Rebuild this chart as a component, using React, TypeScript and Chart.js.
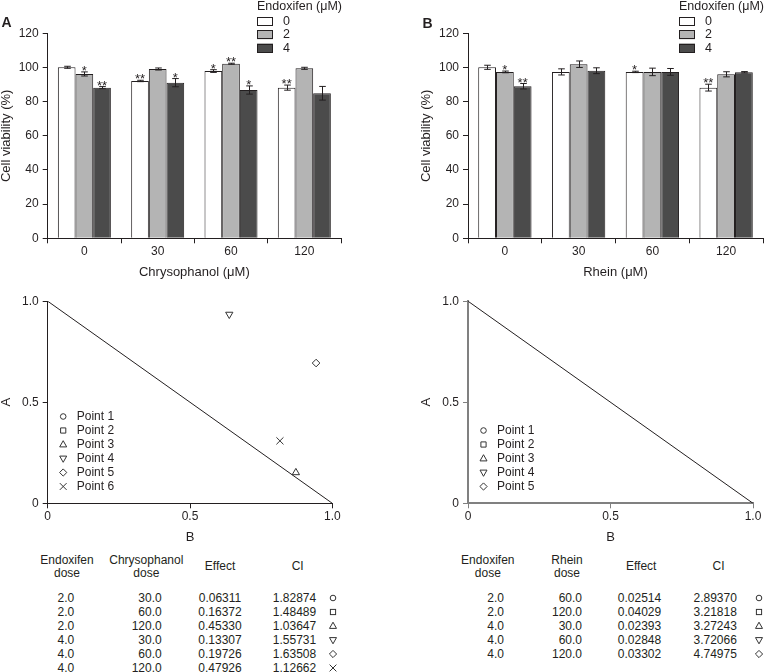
import React, { useEffect, useRef } from 'react';
import { Chart, registerables } from 'chart.js';

Chart.register(...registerables);

const FONT = '"Liberation Sans", Arial, Helvetica, sans-serif';
const INK = '#231f20';
Chart.defaults.font.family = FONT;
Chart.defaults.color = INK;

// ---------- bar chart data ----------
const concentrations = ['0', '30', '60', '120'];
const endoxifenDoses = ['0', '2', '4'];
const barColors = ['#ffffff', '#b4b4b4', '#4b4b4b'];

const chrysoEndo0 = [100.1, 92.1, 97.9, 88.2];
const chrysoEndo2 = [96.2, 99.1, 102.2, 99.5];
const chrysoEndo4 = [88.2, 91.1, 86.8, 84.9];
const chrysoErr0 = [0.6, 0.4, 0.8, 1.5];
const chrysoErr2 = [1.2, 0.6, 0.3, 0.6];
const chrysoErr4 = [0.6, 2.4, 2.4, 4.0];
const chrysoStars0 = ['', '**', '*', '**'];
const chrysoStars2 = ['*', '', '**', ''];
const chrysoStars4 = ['**', '*', '*', ''];

const rheinEndo0 = [100.1, 97.4, 97.4, 88.2];
const rheinEndo2 = [97.4, 101.9, 97.4, 96.0];
const rheinEndo4 = [89.0, 98.1, 97.4, 97.2];
const rheinErr0 = [1.2, 1.8, 0.4, 2.0];
const rheinErr2 = [0.5, 1.9, 2.2, 1.5];
const rheinErr4 = [1.6, 1.7, 2.0, 0.4];
const rheinStars0 = ['', '', '*', '**'];
const rheinStars2 = ['*', '', '', ''];
const rheinStars4 = ['**', '', '', ''];

// ---------- isobologram data ----------
const additivityB = [0, 1];
const additivityA = [1, 0];
const chrysoPointNames = ['Point 1', 'Point 2', 'Point 3', 'Point 4', 'Point 5', 'Point 6'];
const chrysoPointB = [null, null, 0.872, 0.638, 0.943, 0.816];
const chrysoPointA = [null, null, 0.152, 0.935, 0.694, 0.309];
const rheinPointNames = ['Point 1', 'Point 2', 'Point 3', 'Point 4', 'Point 5'];
const rheinPointB = [null, null, null, null, null];
const rheinPointA = [null, null, null, null, null];
const markerKinds = ['circle', 'rect', 'triangle', 'triangleDown', 'rectRot', 'crossRot'];

// ---------- table data ----------
const chrysoTableEndo = ['2.0', '2.0', '2.0', '4.0', '4.0', '4.0'];
const chrysoTableDose = ['30.0', '60.0', '120.0', '30.0', '60.0', '120.0'];
const chrysoTableEffect = ['0.06311', '0.16372', '0.45330', '0.13307', '0.19726', '0.47926'];
const chrysoTableCI = ['1.82874', '1.48489', '1.03647', '1.55731', '1.63508', '1.12662'];
const rheinTableEndo = ['2.0', '2.0', '4.0', '4.0', '4.0'];
const rheinTableDose = ['60.0', '120.0', '30.0', '60.0', '120.0'];
const rheinTableEffect = ['0.02514', '0.04029', '0.02393', '0.02848', '0.03302'];
const rheinTableCI = ['2.89370', '3.21818', '3.27243', '3.72066', '4.74975'];

function drawMarker(ctx: CanvasRenderingContext2D, kind: string, x: number, y: number) {
  ctx.beginPath();
  switch (kind) {
    case 'circle':
      ctx.arc(x, y, 2.8, 0, Math.PI * 2);
      break;
    case 'rect':
      ctx.rect(x - 2.6, y - 2.6, 5.2, 5.2);
      break;
    case 'triangle':
      ctx.moveTo(x, y - 3.8); ctx.lineTo(x + 3.5, y + 2.4); ctx.lineTo(x - 3.5, y + 2.4); ctx.closePath();
      break;
    case 'triangleDown':
      ctx.moveTo(x, y + 3.8); ctx.lineTo(x + 3.5, y - 2.4); ctx.lineTo(x - 3.5, y - 2.4); ctx.closePath();
      break;
    case 'rectRot':
      ctx.moveTo(x, y - 3.6); ctx.lineTo(x + 3.6, y); ctx.lineTo(x, y + 3.6); ctx.lineTo(x - 3.6, y); ctx.closePath();
      break;
    case 'crossRot':
      ctx.moveTo(x - 3.4, y - 3.4); ctx.lineTo(x + 3.4, y + 3.4);
      ctx.moveTo(x + 3.4, y - 3.4); ctx.lineTo(x - 3.4, y + 3.4);
      break;
  }
  ctx.stroke();
}

const errorBarPlugin = {
  id: 'errorBars',
  afterDatasetsDraw(chart: any) {
    const ctx = chart.ctx as CanvasRenderingContext2D;
    const yScale = chart.scales.y;
    ctx.save();
    ctx.strokeStyle = INK;
    ctx.fillStyle = INK;
    ctx.lineWidth = 1;
    ctx.font = `13px ${FONT}`;
    ctx.textAlign = 'center';
    ctx.textBaseline = 'alphabetic';
    chart.data.datasets.forEach((ds: any, di: number) => {
      const meta = chart.getDatasetMeta(di);
      meta.data.forEach((bar: any, i: number) => {
        const v = ds.data[i];
        const e = ds.errors[i];
        const yt = yScale.getPixelForValue(v + e);
        const yb = yScale.getPixelForValue(v - e);
        const x = Math.round(bar.x) + 0.5;
        const cap = 3.3;
        ctx.beginPath();
        ctx.moveTo(x, yt); ctx.lineTo(x, yb);
        ctx.moveTo(x - cap, yt); ctx.lineTo(x + cap, yt);
        ctx.moveTo(x - cap, yb); ctx.lineTo(x + cap, yb);
        ctx.stroke();
        const s = ds.stars[i];
        if (s) ctx.fillText(s, bar.x, yt + 3);
      });
    });
    ctx.restore();
  },
};

const barLegendPlugin = {
  id: 'barLegend',
  afterDraw(chart: any) {
    const ctx = chart.ctx as CanvasRenderingContext2D;
    const x0 = Math.round(chart.chartArea.right - 84);
    ctx.save();
    ctx.font = `12.5px ${FONT}`;
    ctx.fillStyle = INK;
    ctx.textAlign = 'left';
    ctx.textBaseline = 'middle';
    ctx.fillText('Endoxifen (\u03bcM)', x0, 7);
    chart.data.datasets.forEach((ds: any, i: number) => {
      const by = 17 + i * 13.3;
      ctx.fillStyle = ds.backgroundColor;
      ctx.fillRect(x0, by, 16, 9);
      ctx.strokeStyle = INK;
      ctx.lineWidth = 1;
      ctx.strokeRect(x0 + 0.5, Math.round(by) + 0.5, 15, 8);
      ctx.fillStyle = INK;
      ctx.fillText(ds.label, x0 + 26, by + 4.5);
    });
    ctx.restore();
  },
};

const isoLegendPlugin = {
  id: 'isoLegend',
  afterDraw(chart: any) {
    const ctx = chart.ctx as CanvasRenderingContext2D;
    const { chartArea } = chart;
    const items = chart.data.datasets.filter((d: any) => d.legendKind);
    const n = items.length;
    ctx.save();
    ctx.font = `12px ${FONT}`;
    ctx.fillStyle = INK;
    ctx.strokeStyle = '#333';
    ctx.lineWidth = 1;
    ctx.textAlign = 'left';
    ctx.textBaseline = 'middle';
    items.forEach((d: any, i: number) => {
      const y = chartArea.bottom - 16.8 - (n - 1 - i) * 14;
      drawMarker(ctx, d.legendKind, chartArea.left + 15.5, y);
      ctx.fillText(d.label, chartArea.left + 29, y);
    });
    ctx.restore();
  },
};

type BarProps = {
  left: number; padLeft: number; padRight: number; axisW: number;
  series: number[][]; errors: number[][]; stars: string[][]; xTitle: string;
};

function BarPanel({ left, padLeft, padRight, axisW, series, errors, stars, xTitle }: BarProps) {
  const ref = useRef<HTMLCanvasElement>(null);
  useEffect(() => {
    const chart = new Chart(ref.current as HTMLCanvasElement, {
      type: 'bar',
      data: {
        labels: concentrations,
        datasets: series.map((d, i) => ({
          label: endoxifenDoses[i],
          data: d,
          backgroundColor: barColors[i],
          borderColor: INK,
          borderWidth: 1,
          borderSkipped: 'bottom',
          categoryPercentage: 0.723,
          barPercentage: 1,
          errors: errors[i],
          stars: stars[i],
        })) as any,
      },
      options: {
        responsive: false,
        animation: false,
        events: [],
        layout: { padding: { left: padLeft, right: padRight, top: 33.3, bottom: 0 } },
        plugins: { legend: { display: false }, tooltip: { enabled: false } },
        scales: {
          x: {
            offset: true,
            grid: { display: true, offset: true, drawOnChartArea: false, drawTicks: true, tickLength: 5, color: INK, lineWidth: 1 },
            border: { display: true, color: INK, width: 1 },
            ticks: { font: { size: 12, lineHeight: 1.2 }, color: INK, padding: 1, maxRotation: 0 },
            title: { display: true, text: xTitle, font: { size: 13, lineHeight: 1 }, color: INK, padding: { top: 0, bottom: 11.5 } },
            afterFit: (s: any) => { s.height = 51.7; },
          },
          y: {
            min: 0,
            max: 120,
            ticks: { stepSize: 20, font: { size: 12 }, color: INK, padding: 4 },
            grid: { display: true, drawOnChartArea: false, drawTicks: true, tickLength: 5, color: INK, lineWidth: 1 },
            border: { display: true, color: INK, width: 1 },
            title: { display: true, text: 'Cell viability (%)', font: { size: 13, lineHeight: 1 }, color: INK, padding: { top: 0, bottom: 0 } },
            afterFit: (s: any) => { s.width = axisW; },
          },
        },
      } as any,
      plugins: [errorBarPlugin, barLegendPlugin],
    });
    return () => chart.destroy();
  }, []);
  return <canvas ref={ref} width={382} height={290} style={{ position: 'absolute', left, top: 0, width: 382, height: 290 }} />;
}

type IsoProps = {
  left: number; padLeft: number; padRight: number; axisW: number;
  names: string[]; bs: (number | null)[]; as: (number | null)[]; axisColor: string; axisLine: number;
};

function IsoPanel({ left, padLeft, padRight, axisW, names, bs, as, axisColor, axisLine }: IsoProps) {
  const ref = useRef<HTMLCanvasElement>(null);
  useEffect(() => {
    const radii: Record<string, number> = { circle: 3.5, rect: 3.8, triangle: 4.2, triangleDown: 4.2, rectRot: 3.8, crossRot: 5 };
    const pointSets = names.map((name, i) => {
      const kind = markerKinds[i];
      const b = bs[i];
      const a = as[i];
      return {
        type: 'scatter',
        label: name,
        legendKind: kind,
        data: b !== null && a !== null ? [{ x: b, y: a }] : [],
        pointStyle: kind === 'triangleDown' ? 'triangle' : kind,
        pointRotation: kind === 'triangleDown' ? 180 : 0,
        pointRadius: radii[kind],
        pointBorderColor: '#333',
        pointBackgroundColor: 'rgba(0,0,0,0)',
        pointBorderWidth: 1,
        showLine: false,
      };
    });
    const tickFmt = (v: any) => (Number(v) === 0 ? '0' : Number(v).toFixed(1));
    const chart = new Chart(ref.current as HTMLCanvasElement, {
      type: 'scatter',
      data: {
        datasets: [
          {
            type: 'line',
            label: 'additivity',
            data: additivityB.map((b, i) => ({ x: b, y: additivityA[i] })),
            borderColor: INK,
            borderWidth: 1,
            pointRadius: 0,
            fill: false,
            tension: 0,
          },
          ...pointSets,
        ] as any,
      },
      options: {
        responsive: false,
        animation: false,
        events: [],
        layout: { padding: { left: padLeft, right: padRight, top: 8.3, bottom: 0 } },
        plugins: { legend: { display: false }, tooltip: { enabled: false } },
        scales: {
          x: {
            type: 'linear',
            min: 0,
            max: 1,
            ticks: { stepSize: 0.5, callback: tickFmt, font: { size: 12, lineHeight: 1.2 }, color: INK, padding: 1, maxRotation: 0 },
            grid: { display: true, drawOnChartArea: false, drawTicks: true, tickLength: 5, color: axisColor, lineWidth: 1 },
            border: { display: true, color: axisColor, width: axisLine },
            title: { display: true, text: 'B', font: { size: 13, lineHeight: 1 }, color: INK, padding: { top: 0, bottom: 1 } },
            afterFit: (s: any) => { s.height = 41.7; },
          },
          y: {
            type: 'linear',
            min: 0,
            max: 1,
            ticks: { stepSize: 0.5, callback: tickFmt, font: { size: 12 }, color: INK, padding: 4 },
            grid: { display: true, drawOnChartArea: false, drawTicks: true, tickLength: 5, color: axisColor, lineWidth: 1 },
            border: { display: true, color: axisColor, width: axisLine },
            title: { display: true, text: 'A', font: { size: 13, lineHeight: 1 }, color: INK, padding: { top: 0, bottom: 0 } },
            afterFit: (s: any) => { s.width = axisW; },
          },
        },
      } as any,
      plugins: [isoLegendPlugin],
    });
    return () => chart.destroy();
  }, []);
  return <canvas ref={ref} width={382} height={255} style={{ position: 'absolute', left, top: 290, width: 382, height: 255 }} />;
}

function T({ x, y, a = 'c', s = 12, bold = false, children }: { x: number; y: number; a?: string; s?: number; bold?: boolean; children: React.ReactNode }) {
  const tx = a === 'c' ? '-50%' : a === 'r' ? '-100%' : '0';
  return (
    <div
      style={{
        position: 'absolute', left: x, top: y, transform: `translate(${tx}, -50%)`,
        fontSize: s, lineHeight: 1, fontFamily: FONT, color: INK, whiteSpace: 'nowrap',
        fontWeight: bold ? 'bold' : 'normal',
      }}
    >
      {children}
    </div>
  );
}

function Sym({ x, y, kind }: { x: number; y: number; kind: string }) {
  let shape: React.ReactNode = null;
  const st = { fill: 'none', stroke: '#333', strokeWidth: 1 };
  if (kind === 'circle') shape = <circle cx={0} cy={0} r={2.8} {...st} />;
  if (kind === 'rect') shape = <rect x={-2.6} y={-2.6} width={5.2} height={5.2} {...st} />;
  if (kind === 'triangle') shape = <polygon points="0,-3.8 3.5,2.4 -3.5,2.4" {...st} />;
  if (kind === 'triangleDown') shape = <polygon points="0,3.8 3.5,-2.4 -3.5,-2.4" {...st} />;
  if (kind === 'rectRot') shape = <polygon points="0,-3.6 3.6,0 0,3.6 -3.6,0" {...st} />;
  if (kind === 'crossRot') shape = <path d="M-3.4,-3.4 L3.4,3.4 M3.4,-3.4 L-3.4,3.4" {...st} />;
  return (
    <svg style={{ position: 'absolute', left: x - 5, top: y - 5 }} width={10} height={10} viewBox="-5 -5 10 10">
      {shape}
    </svg>
  );
}

type TableProps = {
  drugName: string; endo: string[]; dose: string[]; effect: string[]; ci: string[];
  hEndo: number; cEndo: number; hDose: number; rDose: number; hEff: number; cEff: number; hCI: number; cCI: number; cSym: number;
};

function DoseTable(p: TableProps) {
  const rowY = (i: number) => 597.5 + i * 14;
  return (
    <>
      <T x={p.hEndo} y={559.8}>Endoxifen</T>
      <T x={p.hEndo} y={573}>dose</T>
      <T x={p.hDose} y={559.8}>{p.drugName}</T>
      <T x={p.hDose} y={573}>dose</T>
      <T x={p.hEff} y={566.3}>Effect</T>
      <T x={p.hCI} y={566.3}>CI</T>
      {p.endo.map((v, i) => (
        <React.Fragment key={i}>
          <T x={p.cEndo} y={rowY(i)}>{v}</T>
          <T x={p.rDose} y={rowY(i)} a="r">{p.dose[i]}</T>
          <T x={p.cEff} y={rowY(i)}>{p.effect[i]}</T>
          <T x={p.cCI} y={rowY(i)}>{p.ci[i]}</T>
          <Sym x={p.cSym} y={rowY(i)} kind={markerKinds[i]} />
        </React.Fragment>
      ))}
    </>
  );
}

export default function App() {
  return (
    <div style={{ position: 'absolute', left: 0, top: 0, width: 764, height: 672, background: '#ffffff', overflow: 'hidden', fontFamily: FONT }}>
      <BarPanel
        left={0} padLeft={0} padRight={41} axisW={47.7}
        series={[chrysoEndo0, chrysoEndo2, chrysoEndo4]}
        errors={[chrysoErr0, chrysoErr2, chrysoErr4]}
        stars={[chrysoStars0, chrysoStars2, chrysoStars4]}
        xTitle={'Chrysophanol (\u03bcM)'}
      />
      <BarPanel
        left={382} padLeft={37.5} padRight={1} axisW={48.5}
        series={[rheinEndo0, rheinEndo2, rheinEndo4]}
        errors={[rheinErr0, rheinErr2, rheinErr4]}
        stars={[rheinStars0, rheinStars2, rheinStars4]}
        xTitle={'Rhein (\u03bcM)'}
      />
      <IsoPanel
        left={0} padLeft={0} padRight={49.7} axisW={47.7}
        names={chrysoPointNames} bs={chrysoPointB} as={chrysoPointA} axisColor={INK} axisLine={1}
      />
      <IsoPanel
        left={382} padLeft={37.5} padRight={11} axisW={48.5}
        names={rheinPointNames} bs={rheinPointB} as={rheinPointA} axisColor={'#808080'} axisLine={2}
      />
      <T x={1.5} y={22.3} a="l" s={14} bold>A</T>
      <T x={422.5} y={22.8} a="l" s={14} bold>B</T>
      <DoseTable
        drugName="Chrysophanol" endo={chrysoTableEndo} dose={chrysoTableDose} effect={chrysoTableEffect} ci={chrysoTableCI}
        hEndo={67} cEndo={65.8} hDose={146.3} rDose={161.7} hEff={220} cEff={220} hCI={297.7} cCI={294.5} cSym={333}
      />
      <DoseTable
        drugName="Rhein" endo={rheinTableEndo} dose={rheinTableDose} effect={rheinTableEffect} ci={rheinTableCI}
        hEndo={487.8} cEndo={495.7} hDose={567} rDose={582} hEff={641.2} cEff={639.5} hCI={718.5} cCI={715.2} cSym={758.5}
      />
    </div>
  );
}
